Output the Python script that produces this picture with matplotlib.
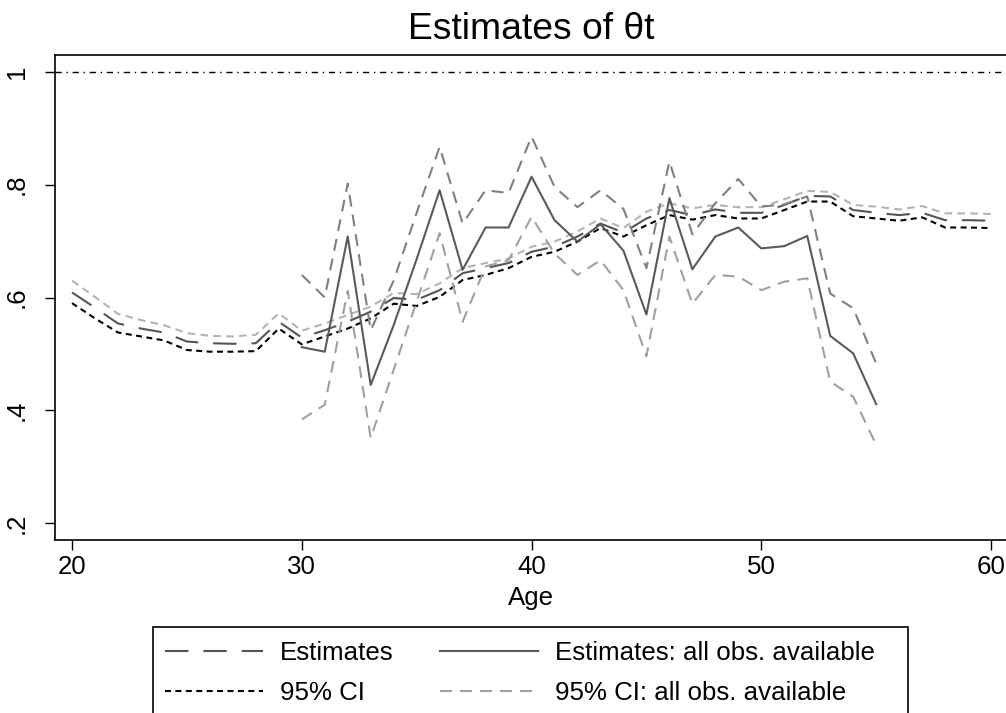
import numpy as np
import matplotlib
matplotlib.use("Agg")
import matplotlib.pyplot as plt
import matplotlib.patches

plt.rcParams['font.family'] = ['Liberation Sans', 'DejaVu Sans']
plt.rcParams['lines.scale_dashes'] = False

# --- data ---
ages = list(range(20, 61))
est = [0.609, 0.582, 0.554, 0.545, 0.538, 0.522, 0.519, 0.518, 0.519, 0.557,
       0.529, 0.542, 0.557, 0.575, 0.599, 0.596, 0.613, 0.643, 0.652, 0.661,
       0.681, 0.690, 0.708, 0.731, 0.715, 0.740, 0.755, 0.746, 0.756, 0.750,
       0.750, 0.764, 0.780, 0.779, 0.755, 0.750, 0.746, 0.750, 0.737, 0.737,
       0.736]
ci_lo = [0.590, 0.563, 0.538, 0.531, 0.524, 0.507, 0.504, 0.504, 0.505, 0.545,
         0.517, 0.531, 0.545, 0.563, 0.589, 0.585, 0.601, 0.631, 0.640, 0.652,
         0.672, 0.681, 0.699, 0.723, 0.708, 0.728, 0.746, 0.738, 0.746, 0.740,
         0.740, 0.755, 0.770, 0.770, 0.744, 0.740, 0.736, 0.742, 0.724, 0.724,
         0.723]
ci_hi = [0.630, 0.601, 0.571, 0.560, 0.551, 0.537, 0.532, 0.531, 0.534, 0.572,
         0.541, 0.554, 0.569, 0.584, 0.608, 0.606, 0.625, 0.652, 0.661, 0.669,
         0.690, 0.699, 0.717, 0.740, 0.723, 0.752, 0.767, 0.758, 0.764, 0.760,
         0.760, 0.774, 0.789, 0.787, 0.764, 0.761, 0.756, 0.762, 0.749, 0.749,
         0.748]

ages_all = list(range(30, 56))
est_all = [0.512, 0.504, 0.708, 0.445, 0.551, 0.668, 0.790, 0.649, 0.724, 0.724,
           0.814, 0.737, 0.699, 0.730, 0.683, 0.570, 0.776, 0.650, 0.708, 0.724,
           0.687, 0.691, 0.709, 0.532, 0.501, 0.411]
ci_all_hi = [0.640, 0.600, 0.802, 0.542, 0.630, 0.750, 0.867, 0.731, 0.790, 0.785,
             0.885, 0.796, 0.760, 0.790, 0.757, 0.652, 0.841, 0.712, 0.767, 0.810,
             0.761, 0.765, 0.779, 0.607, 0.581, 0.483]
ci_all_lo = [0.384, 0.410, 0.612, 0.351, 0.472, 0.593, 0.714, 0.557, 0.655, 0.666,
             0.743, 0.678, 0.640, 0.666, 0.613, 0.496, 0.708, 0.589, 0.640, 0.637,
             0.613, 0.628, 0.634, 0.451, 0.424, 0.339]

yticks = [0.2, 0.4, 0.6, 0.8, 1.0]
ytick_labels = ['.2', '.4', '.6', '.8', '1']
xticks = [20, 30, 40, 50, 60]

# --- figure ---
W, H = 1006, 713
fig = plt.figure(figsize=(W / 100, H / 100), dpi=100)
ax = fig.add_axes([55 / W, 1 - 540 / H, 1 - 55 / W, (540 - 55) / H])

lw = 1.5
ax.axhline(1.0, color='black', lw=1.0, dashes=(4.5, 3.4, 1.0, 3.4))
l_est, = ax.plot(ages, est, color='#555555', lw=lw, dashes=(16.8, 10.8))
l_lo, = ax.plot(ages, ci_lo, color='black', lw=lw, dashes=(4.3, 3.2))
ax.plot(ages, ci_hi, color='#b4b4b4', lw=lw, dashes=(5.5, 3.8))
l_all, = ax.plot(ages_all, est_all, color='#5a5a5a', lw=lw)
ax.plot(ages_all, ci_all_hi, color='#808080', lw=lw, dashes=(8.6, 5.8))
l_all_lo, = ax.plot(ages_all, ci_all_lo, color='#a0a0a0', lw=lw, dashes=(8.6, 5.8))

ax.set_xlim(19.26, 60.65)
ax.set_ylim(0.1704, 1.0296)
ax.set_xticks(xticks)
ax.set_yticks(yticks)
ax.set_yticklabels(ytick_labels)
ax.tick_params(axis='both', labelsize=18.6, length=7.5, width=1.0, direction='out')
ax.tick_params(axis='x', pad=3)
ax.tick_params(axis='y', pad=11.5, labelrotation=90)
for t in ax.get_yticklabels():
    t.set_va('center')
ax.spines['right'].set_visible(False)
for s in ['top', 'left', 'bottom']:
    ax.spines[s].set_linewidth(1.2)

ax.set_xlabel('Age', fontsize=18.6, labelpad=5)
fig.text(531 / W, 1 - 39 / H, 'Estimates of θt', fontsize=26.8,
         ha='center', va='baseline')

# legend box (its bottom edge runs off the canvas, as in the reference)
box = matplotlib.patches.Rectangle((153 / W, -0.02), (908 - 153) / W, 1 - 627 / H + 0.02,
                                   transform=fig.transFigure, fill=False,
                                   edgecolor='black', lw=1.2, clip_on=False)
fig.add_artist(box)

leg = fig.legend([l_est, l_lo, l_all, l_all_lo],
                 ['Estimates', '95% CI', 'Estimates: all obs. available',
                  '95% CI: all obs. available'],
                 ncols=2, loc='upper left', bbox_to_anchor=(165 / W, 1 - 641 / H),
                 fontsize=18.6, frameon=False, handlelength=3.8, handletextpad=0.65,
                 columnspacing=1.8, labelspacing=0.62, borderpad=0,
                 borderaxespad=0)

fig.savefig('out.png', dpi=100)
